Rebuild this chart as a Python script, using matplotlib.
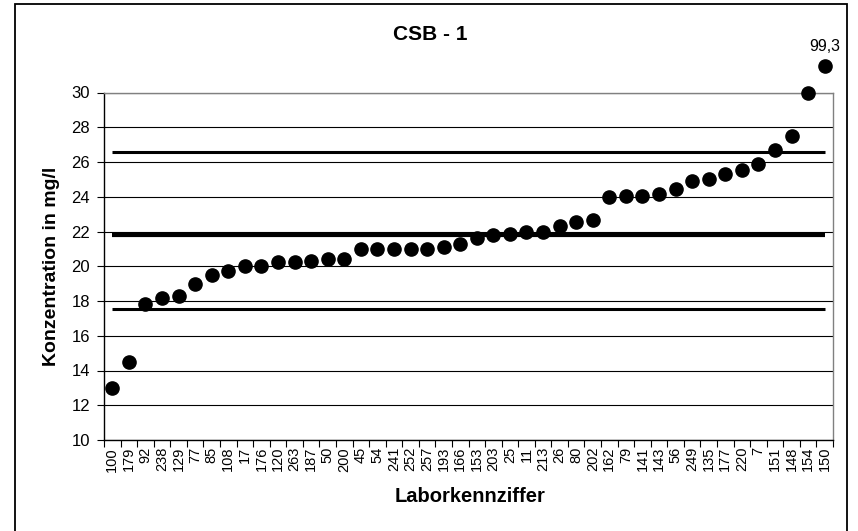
import matplotlib
matplotlib.use("Agg")
import matplotlib.pyplot as plt
from matplotlib.patches import Rectangle
import numpy as np

plt.rcParams['font.family'] = ['Liberation Sans', 'DejaVu Sans']

# lab codes, sorted by result
labs = ["100", "179", "92", "238", "129", "77", "85", "108", "17", "176",
        "120", "263", "187", "50", "200", "45", "54", "241", "252", "257",
        "193", "166", "153", "203", "25", "11", "213", "26", "80", "202",
        "162", "79", "141", "143", "56", "249", "135", "177", "220", "7",
        "151", "148", "154", "150"]
values = [13.0, 14.5, 17.8, 18.2, 18.3, 19.0, 19.5, 19.7, 20.0, 20.0,
          20.25, 20.25, 20.3, 20.4, 20.4, 21.0, 21.0, 21.0, 21.0, 21.0,
          21.1, 21.3, 21.6, 21.8, 21.85, 22.0, 22.0, 22.3, 22.55, 22.65,
          24.0, 24.05, 24.05, 24.15, 24.45, 24.9, 25.0, 25.3, 25.55, 25.9,
          26.7, 27.5, 30.0, 99.3]
# outlier is shown just above the axis top with its true value
outlier_shown_at = 31.5

# upper limit, assigned value, lower limit
limits = [26.55, 21.8, 17.55]
limit_widths = [2.2, 3.0, 2.2]

x = np.arange(len(labs))
y_plot = np.minimum(values, outlier_shown_at)

fig = plt.figure(figsize=(8.58, 5.31), dpi=100)
ax = fig.add_axes([104 / 858, 1 - 440 / 531, 729 / 858, 347.5 / 531])

# outer chart frame
fig.patches.append(Rectangle((15 / 858, -0.05), 832 / 858, 1.05 - 4.5 / 531,
                             transform=fig.transFigure, fill=False,
                             edgecolor="black", linewidth=1.3))

for val, lw in zip(limits, limit_widths):
    ax.plot([x[0], x[-1]], [val, val], color="black", linewidth=lw,
            solid_capstyle="butt", zorder=3)

ax.plot(x, y_plot, linestyle="none", marker="o", markersize=9.5,
        color="black", clip_on=False, zorder=4)
ax.annotate("99,3", (x[-1], y_plot[-1]), xytext=(0, 9),
            textcoords="offset points", ha="center", va="bottom",
            fontsize=11.5, annotation_clip=False)

ax.set_xlim(-0.5, len(labs) - 0.5)
ax.set_ylim(10, 30)
ax.set_yticks(np.arange(10, 31, 2))
ax.grid(axis="y", color="black", linewidth=0.8)
ax.set_axisbelow(True)

ax.set_xticks(x)
ax.set_xticklabels(labs, rotation=90, fontsize=10.5)
ax.set_xticks(np.arange(-0.5, len(labs), 1), minor=True)
ax.tick_params(axis="x", which="major", length=0, pad=5)
ax.tick_params(axis="x", which="minor", length=5, width=0.8, direction="out")
ax.tick_params(axis="y", length=5, width=0.8, labelsize=12, pad=5)

for side in ["top", "right"]:
    ax.spines[side].set_color("#808080")
    ax.spines[side].set_linewidth(1)
for side in ["left", "bottom"]:
    ax.spines[side].set_color("black")
    ax.spines[side].set_linewidth(1)

ax.set_ylabel("Konzentration in mg/l", fontsize=14, fontweight="bold", labelpad=8)
fig.text(430 / 858, 1 - 35 / 531, "CSB - 1", ha="center", va="center",
         fontsize=15, fontweight="bold")
fig.text(470 / 858, 1 - 497 / 531, "Laborkennziffer", ha="center", va="center",
         fontsize=14.5, fontweight="bold")

fig.savefig("out.png", dpi=100)
